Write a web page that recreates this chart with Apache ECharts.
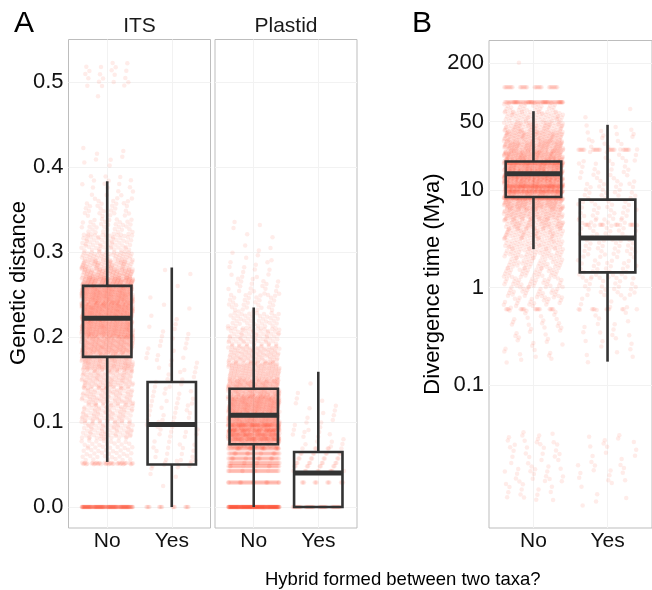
<!DOCTYPE html>
<html>
<head>
<meta charset="utf-8">
<script src="https://cdn.jsdelivr.net/npm/echarts@6/dist/echarts.min.js"></script>
<style>
html,body{margin:0;padding:0;background:#fff;}
#chart{width:652px;height:590px;}
</style>
</head>
<body>
<div id="chart"></div>
<script>
// ---------- data ----------
const categories = ['No', 'Yes'];
const panelTitles = ['ITS', 'Plastid'];
const geneticTicks = [0, 0.1, 0.2, 0.3, 0.4, 0.5];
const divergenceTicks = [0.1, 1, 10, 50, 200];

// boxplot summaries: [lowerWhisker, Q1, median, Q3, upperWhisker]
const itsBoxNo = [0.053, 0.1765, 0.222, 0.26, 0.383];
const itsBoxYes = [0.0, 0.05, 0.097, 0.147, 0.2816];
const plastidBoxNo = [0.0, 0.0738, 0.108, 0.139, 0.2346];
const plastidBoxYes = [0.0, 0.0, 0.040, 0.0647, 0.159];
const divBoxNo = [2.47, 8.45, 14.6, 19.5, 64];
const divBoxYes = [0.174, 1.43, 3.22, 7.95, 46.4];

// observed point counts per value range: [from, to, count] (from == to: a value repeated count times)
const itsPointsNo = [
  [0,0,140],[0.05,0.052,40],[0.055,0.08,50],[0.08,0.10,70],[0.10,0.12,80],[0.12,0.14,90],
  [0.14,0.16,110],[0.16,0.18,170],[0.18,0.20,250],[0.20,0.22,320],[0.22,0.24,360],[0.24,0.26,340],
  [0.26,0.27,140],[0.27,0.28,95],[0.28,0.29,70],[0.29,0.30,48],[0.30,0.32,60],[0.32,0.34,38],
  [0.34,0.36,26],[0.36,0.39,20],[0.40,0.424,8],[0.483,0.483,1],[0.494,0.525,20]
];
const itsPointsYes = [
  [0,0,15],[0.02,0.045,3],[0.045,0.055,10],[0.055,0.08,16],[0.08,0.10,14],[0.10,0.12,14],
  [0.12,0.14,12],[0.14,0.16,10],[0.16,0.18,10],[0.18,0.20,9],[0.20,0.22,6],[0.22,0.25,5],[0.25,0.283,3]
];
const plastidPointsNo = [
  [0,0,200],[0.0287,0.0287,60],[0.0424,0.0424,55],[0.0479,0.0479,55],[0.0518,0.0518,55],
  [0.0569,0.0569,60],[0.0628,0.0628,60],[0.0687,0.0687,65],[0.07,0.09,280],[0.080,0.080,40],
  [0.085,0.085,40],[0.090,0.090,40],[0.096,0.096,40],[0.09,0.11,340],[0.11,0.13,330],[0.13,0.15,230],
  [0.15,0.17,150],[0.17,0.19,100],[0.19,0.21,65],[0.21,0.23,45],[0.23,0.25,30],[0.25,0.27,20],
  [0.27,0.29,12],[0.29,0.31,7],[0.31,0.335,5]
];
const plastidPointsYes = [
  [0,0,35],[0.0287,0.0287,12],[0.0424,0.0424,9],[0.0479,0.0479,8],[0.0518,0.0518,8],
  [0.0569,0.0569,8],[0.0628,0.0628,8],[0.0687,0.0687,6],[0.07,0.09,12],[0.09,0.11,9],
  [0.11,0.13,7],[0.13,0.156,2]
];
const divPointsNo = [
  [200,200,1],[112.7,112.7,30],[79,79,70],[63.1,79.4,30],[50.1,63.1,55],[39.8,50.1,80],
  [31.6,39.8,110],[25.1,31.6,140],[20.0,25.1,170],[18.8,18.8,50],[15.8,20.0,230],[12.6,15.8,260],
  [10.8,10.8,50],[10,12.6,230],[9.6,9.6,50],[8.2,8.2,50],[7.94,10,180],[6.31,7.94,140],
  [5.01,6.31,100],[3.98,5.01,80],[3.16,3.98,65],[2.51,3.16,52],[2.0,2.51,45],[1.58,2.0,38],
  [1.26,1.58,32],[1.0,1.26,30],[0.794,1.0,25],[0.631,0.794,20],[0.6,0.6,15],[0.501,0.631,8],
  [0.398,0.501,10],[0.316,0.398,8],[0.251,0.316,7],[0.2,0.251,6],[0.17,0.2,4],
  [0.025,0.033,10],[0.015,0.025,18],[0.01,0.015,18],[0.0065,0.01,14]
];
const divPointsYes = [
  [25.7,25.7,25],[50,70,2],[39.8,50,4],[31.6,39.8,8],[20,31.6,14],[12.6,20,20],[7.94,12.6,25],
  [5.01,7.94,28],[4.4,4.4,15],[3.16,5.01,28],[2.0,3.16,30],[1.26,2.0,28],[0.794,1.26,25],
  [0.6,0.6,10],[0.5,0.794,10],[0.316,0.5,10],[0.2,0.316,8],[0.16,0.2,2],
  [0.025,0.033,6],[0.015,0.025,10],[0.01,0.015,10],[0.0054,0.01,6]
];

// ---------- helpers ----------
const FONT = '"Liberation Sans", Arial, Helvetica, sans-serif';
const POINT_COLOR = 'rgba(255,64,32,0.12)';
const BOX_COLOR = '#333333';

function frac(v) { return v - Math.floor(v); }
// spreads each counted range into jittered points (deterministic jitter, like geom_jitter)
function cloud(bins, xPos, isLog) {
  const pts = [];
  let g = 0;
  bins.forEach(([lo, hi, n]) => {
    for (let k = 0; k < n; k++) {
      g++;
      const fx = frac(0.5 + g * 0.7548776662);
      const fy = frac(0.5 + g * 0.5698402910);
      const y = lo === hi ? lo : (isLog ? lo * Math.pow(hi / lo, fy) : lo + (hi - lo) * fy);
      pts.push([xPos + (fx - 0.5) * 0.8, y]);
    }
  });
  return pts;
}

function boxRender(params, api) {
  const x = api.value(0);
  const hw = 0.375;
  const lo = api.coord([x, api.value(1)]);
  const q1 = api.coord([x, api.value(2)]);
  const med = api.coord([x, api.value(3)]);
  const q3 = api.coord([x, api.value(4)]);
  const hi = api.coord([x, api.value(5)]);
  const left = api.coord([x - hw, api.value(3)])[0];
  const right = api.coord([x + hw, api.value(3)])[0];
  const st = { stroke: BOX_COLOR, lineWidth: 2.6, fill: null };
  return {
    type: 'group',
    children: [
      { type: 'line', shape: { x1: hi[0], y1: hi[1], x2: q3[0], y2: q3[1] }, style: st },
      { type: 'line', shape: { x1: lo[0], y1: lo[1], x2: q1[0], y2: q1[1] }, style: st },
      { type: 'rect', shape: { x: left, y: q3[1], width: right - left, height: q1[1] - q3[1] }, style: { stroke: BOX_COLOR, lineWidth: 2.6, fill: 'none' } },
      { type: 'line', shape: { x1: left, y1: med[1], x2: right, y2: med[1] }, style: { stroke: BOX_COLOR, lineWidth: 5 } }
    ]
  };
}

const gridLine = { show: true, lineStyle: { color: '#f2f2f2', width: 1 } };

function xAxisFor(gi) {
  return {
    type: 'value', gridIndex: gi, min: 0.4, max: 2.6,
    axisLine: { show: false },
    axisTick: { show: false, customValues: [1, 2] },
    axisLabel: {
      customValues: [1, 2], formatter: v => categories[Math.round(v) - 1],
      fontSize: 21, color: '#111', fontFamily: FONT, margin: 3
    },
    splitLine: gridLine
  };
}

const chart = echarts.init(document.getElementById('chart'), null, { renderer: 'canvas' });

const option = {
  animation: false,
  backgroundColor: '#ffffff',
  grid: [
    { left: 68.5, top: 39.5, width: 142, height: 488.5, show: true, borderColor: '#bdbdbd', borderWidth: 1, backgroundColor: 'transparent' },
    { left: 215, top: 39.5, width: 142, height: 488.5, show: true, borderColor: '#bdbdbd', borderWidth: 1, backgroundColor: 'transparent' },
    { left: 489, top: 40.5, width: 165, height: 487.5, show: true, borderColor: '#bdbdbd', borderWidth: 1, backgroundColor: 'transparent' }
  ],
  xAxis: [xAxisFor(0), xAxisFor(1), xAxisFor(2)],
  yAxis: [
    {
      type: 'value', gridIndex: 0, min: -0.0247, max: 0.5497,
      axisLine: { show: false },
      axisTick: { show: false, customValues: geneticTicks },
      axisLabel: { customValues: geneticTicks, formatter: v => v.toFixed(1), fontSize: 22, color: '#111', fontFamily: FONT, margin: 5 },
      splitLine: gridLine
    },
    {
      type: 'value', gridIndex: 1, min: -0.0247, max: 0.5497,
      axisLine: { show: false },
      axisTick: { show: false, customValues: geneticTicks },
      axisLabel: { show: false },
      splitLine: gridLine
    },
    {
      type: 'log', logBase: 10, gridIndex: 2, min: 0.00344, max: 339,
      axisLine: { show: false },
      axisTick: { show: false, customValues: divergenceTicks },
      axisLabel: { customValues: divergenceTicks, formatter: v => String(v), fontSize: 22, color: '#111', fontFamily: FONT, margin: 5 },
      splitLine: gridLine
    }
  ],
  series: [
    { type: 'scatter', xAxisIndex: 0, yAxisIndex: 0, silent: true, symbolSize: 4.5, itemStyle: { color: POINT_COLOR }, data: cloud(itsPointsNo, 1, false) },
    { type: 'scatter', xAxisIndex: 0, yAxisIndex: 0, silent: true, symbolSize: 4.5, itemStyle: { color: POINT_COLOR }, data: cloud(itsPointsYes, 2, false) },
    { type: 'scatter', xAxisIndex: 1, yAxisIndex: 1, silent: true, symbolSize: 4.5, itemStyle: { color: POINT_COLOR }, data: cloud(plastidPointsNo, 1, false) },
    { type: 'scatter', xAxisIndex: 1, yAxisIndex: 1, silent: true, symbolSize: 4.5, itemStyle: { color: POINT_COLOR }, data: cloud(plastidPointsYes, 2, false) },
    { type: 'scatter', xAxisIndex: 2, yAxisIndex: 2, silent: true, symbolSize: 4.5, itemStyle: { color: POINT_COLOR }, data: cloud(divPointsNo, 1, true) },
    { type: 'scatter', xAxisIndex: 2, yAxisIndex: 2, silent: true, symbolSize: 4.5, itemStyle: { color: POINT_COLOR }, data: cloud(divPointsYes, 2, true) },
    { type: 'custom', xAxisIndex: 0, yAxisIndex: 0, silent: true, renderItem: boxRender, encode: { x: 0, y: [1,2,3,4,5] }, data: [[1].concat(itsBoxNo), [2].concat(itsBoxYes)], z: 10 },
    { type: 'custom', xAxisIndex: 1, yAxisIndex: 1, silent: true, renderItem: boxRender, encode: { x: 0, y: [1,2,3,4,5] }, data: [[1].concat(plastidBoxNo), [2].concat(plastidBoxYes)], z: 10 },
    { type: 'custom', xAxisIndex: 2, yAxisIndex: 2, silent: true, renderItem: boxRender, encode: { x: 0, y: [1,2,3,4,5] }, data: [[1].concat(divBoxNo), [2].concat(divBoxYes)], z: 10 }
  ],
  graphic: [
    { type: 'text', x: 14, y: 24, style: { text: 'A', font: '30px ' + FONT, fill: '#000', verticalAlign: 'middle', align: 'left' } },
    { type: 'text', x: 412, y: 24, style: { text: 'B', font: '30px ' + FONT, fill: '#000', verticalAlign: 'middle', align: 'left' } },
    { type: 'text', x: 139.5, y: 26, style: { text: panelTitles[0], font: '21px ' + FONT, fill: '#1a1a1a', verticalAlign: 'middle', align: 'center' } },
    { type: 'text', x: 286, y: 26, style: { text: panelTitles[1], font: '21px ' + FONT, fill: '#1a1a1a', verticalAlign: 'middle', align: 'center' } },
    { type: 'text', x: 18.5, y: 283, rotation: Math.PI / 2, style: { text: 'Genetic distance', font: '22px ' + FONT, fill: '#000', verticalAlign: 'middle', align: 'center' } },
    { type: 'text', x: 432.5, y: 284, rotation: Math.PI / 2, style: { text: 'Divergence time (Mya)', font: '22px ' + FONT, fill: '#000', verticalAlign: 'middle', align: 'center' } },
    { type: 'text', x: 265, y: 580, style: { text: 'Hybrid formed between two taxa?', font: '18.5px ' + FONT, fill: '#000', verticalAlign: 'middle', align: 'left' } }
  ]
};
chart.setOption(option);
</script>
</body>
</html>
